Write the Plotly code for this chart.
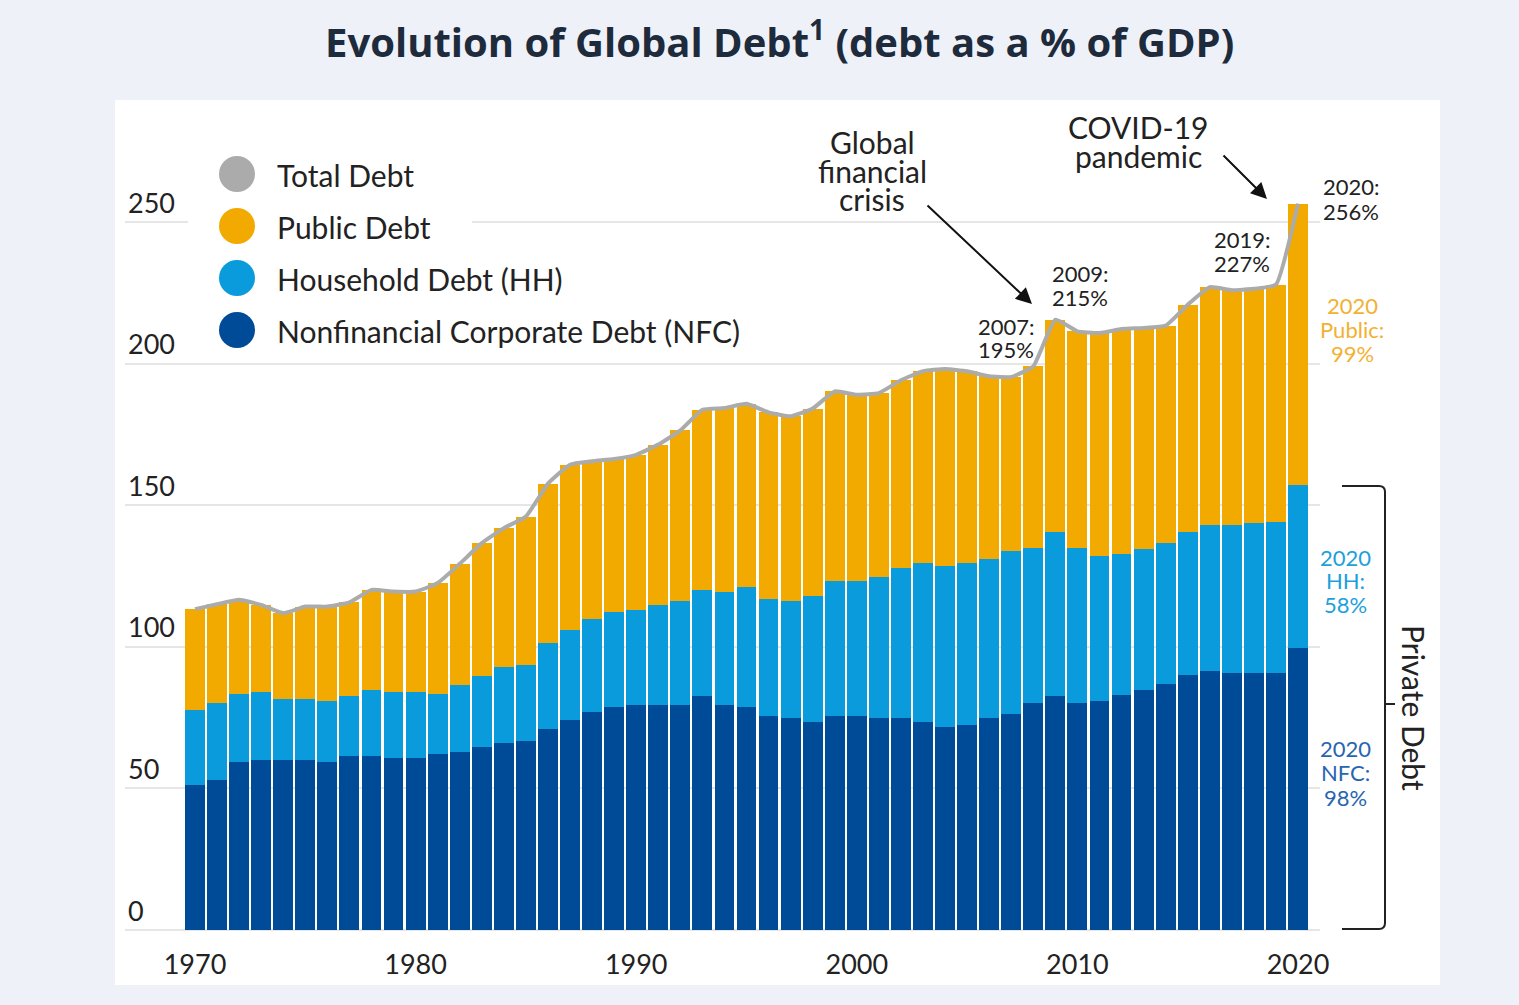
import plotly.graph_objects as go

# ---------------- data (debt as % of GDP) ----------------
years = list(range(1970, 2021))

nfc = [51.2, 53.0, 59.2, 60.0, 60.0, 60.0, 59.2, 61.5, 61.5, 60.7,
       60.7, 62.2, 63.0, 64.5, 66.2, 66.9, 70.8, 74.0, 77.1, 78.7,
       79.5, 79.5, 79.5, 82.7, 79.5, 78.7, 75.6, 74.8, 73.3, 75.6,
       75.6, 74.8, 74.8, 73.3, 71.8, 72.4, 74.8, 76.4, 80.3, 82.7,
       80.3, 81.0, 83.0, 84.6, 86.7, 89.9, 91.5, 90.7, 90.7, 90.7,
       99.5]

household = [26.6, 27.1, 24.1, 24.1, 21.7, 21.7, 21.8, 21.1, 23.3, 23.4,
             23.4, 21.1, 23.5, 25.1, 26.5, 26.6, 30.5, 32.0, 32.8, 33.6,
             33.6, 35.1, 36.8, 37.4, 39.8, 42.3, 41.4, 41.5, 44.5, 47.7,
             47.7, 50.0, 53.0, 56.2, 56.9, 57.1, 56.2, 57.6, 54.5, 57.7,
             54.5, 50.9, 49.9, 49.9, 49.9, 50.8, 51.4, 52.2, 53.0, 53.2,
             57.5]

public = [35.5, 34.9, 33.3, 30.7, 30.2, 32.5, 33.2, 33.1, 35.3, 35.4,
          35.4, 39.2, 42.8, 47.0, 49.2, 52.5, 56.3, 58.3, 55.6, 54.0,
          54.7, 56.8, 60.1, 63.6, 65.0, 64.8, 65.8, 65.1, 66.3, 66.9,
          65.7, 64.8, 66.3, 67.8, 69.4, 67.8, 64.5, 61.3, 64.2, 75.1,
          76.6, 78.9, 79.3, 78.1, 76.8, 80.1, 84.1, 83.0, 82.7, 84.0,
          99.5]

total = [round(a + b + c, 1) for a, b, c in zip(nfc, household, public)]

x_ticks = [1970, 1980, 1990, 2000, 2010, 2020]
y_ticks = [0, 50, 100, 150, 200, 250]

legend_names = ["Total Debt", "Public Debt", "Household Debt (HH)",
                "Nonfinancial Corporate Debt (NFC)"]

# ---------------- styling ----------------
C_NFC = "#004B98"
C_HH = "#0A9BDD"
C_PUB = "#F2A900"
C_TOT = "#ABABAB"
FONT = "Lato"
TXT = "#222222"

# plot area in pixels: left 125, right 1320, top 110, bottom 930
L, R, T, B = 125, 1320, 110, 930
W, H = 1519, 1005


def PX(x):
    return (x - L) / (R - L)


def PY(y):
    return (B - y) / (B - T)


fig = go.Figure()
fig.add_trace(go.Bar(x=years, y=nfc, marker=dict(color=C_NFC, line=dict(width=0)),
                     width=0.9, name=legend_names[3], showlegend=False))
fig.add_trace(go.Bar(x=years, y=household, marker=dict(color=C_HH, line=dict(width=0)),
                     width=0.9, name=legend_names[2], showlegend=False))
fig.add_trace(go.Bar(x=years, y=public, marker=dict(color=C_PUB, line=dict(width=0)),
                     width=0.9, name=legend_names[1], showlegend=False))
fig.add_trace(go.Scatter(x=years, y=total, mode="lines",
                         line=dict(color=C_TOT, width=4, shape="spline", smoothing=0.4),
                         name=legend_names[0], showlegend=False))

shapes = []
annotations = []

# white panel
shapes.append(dict(type="rect", xref="paper", yref="paper", layer="below",
                   x0=PX(115), x1=PX(1440), y0=PY(985), y1=PY(100),
                   fillcolor="white", line=dict(width=0)))

# mask gridline behind legend
shapes.append(dict(type="rect", xref="paper", yref="paper", layer="above",
                   x0=PX(188), x1=PX(472), y0=PY(236), y1=PY(212),
                   fillcolor="white", line=dict(width=0)))

# manual legend
leg_colors = [C_TOT, C_PUB, C_HH, C_NFC]
leg_y = [174, 226, 278, 330]
for name, col, yy in zip(legend_names, leg_colors, leg_y):
    shapes.append(dict(type="circle", xref="paper", yref="paper", layer="above",
                       x0=PX(237 - 18), x1=PX(237 + 18), y0=PY(yy + 18), y1=PY(yy - 18),
                       fillcolor=col, line=dict(width=0)))
    annotations.append(dict(xref="paper", yref="paper", x=PX(275), y=PY(yy + 1),
                            text=name, showarrow=False, xanchor="left", yanchor="middle",
                            font=dict(family=FONT, size=30, color=TXT)))


def text_lines(lines, cx, ys, size, color):
    for t, yy in zip(lines, ys):
        annotations.append(dict(xref="paper", yref="paper", x=PX(cx), y=PY(yy),
                                text=t, showarrow=False, xanchor="center", yanchor="middle",
                                font=dict(family=FONT, size=size, color=color)))


text_lines(["Global", "financial", "crisis"], 872, [142, 171, 199], 30, TXT)
text_lines(["COVID-19", "pandemic"], 1138, [127, 156], 30, TXT)
text_lines(["2007:", "195%"], 1006, [326, 349], 22, TXT)
text_lines(["2009:", "215%"], 1080, [273, 297], 22, TXT)
text_lines(["2019:", "227%"], 1242, [239, 263], 22, TXT)
text_lines(["2020:", "256%"], 1351, [187, 211], 22, TXT)
text_lines(["2020", "Public:", "99%"], 1352, [305, 329, 353], 22, "#F2B131")
text_lines(["2020", "HH:", "58%"], 1345, [557, 580, 604], 22, "#1D9FDC")
text_lines(["2020", "NFC:", "98%"], 1345, [748, 772, 797], 22, "#2865B0")

# arrows
for (tx, ty, hx, hy) in [(926, 204, 1032, 304), (1222, 154, 1267, 199)]:
    annotations.append(dict(xref="paper", yref="paper", axref="pixel", ayref="pixel",
                            x=PX(hx), y=PY(hy), ax=tx - hx, ay=ty - hy, text="",
                            showarrow=True, arrowhead=2, arrowsize=1.6, arrowwidth=2,
                            arrowcolor="#111111"))

# private debt bracket
r = 6
path = (f"M {PX(1342)},{PY(486)} L {PX(1385 - r)},{PY(486)} "
        f"Q {PX(1385)},{PY(486)} {PX(1385)},{PY(486 + r)} "
        f"L {PX(1385)},{PY(929 - r)} "
        f"Q {PX(1385)},{PY(929)} {PX(1385 - r)},{PY(929)} "
        f"L {PX(1342)},{PY(929)} "
        f"M {PX(1385)},{PY(704)} L {PX(1395)},{PY(704)}")
shapes.append(dict(type="path", xref="paper", yref="paper", layer="above", path=path,
                   line=dict(color="#222222", width=2)))
annotations.append(dict(xref="paper", yref="paper", x=PX(1414), y=PY(708),
                        text="Private Debt", textangle=90, showarrow=False,
                        xanchor="center", yanchor="middle",
                        font=dict(family=FONT, size=30, color=TXT)))

# title
annotations.append(dict(xref="paper", yref="paper", x=PX(779), y=PY(40),
                        text="Evolution of Global Debt<sup>1</sup> (debt as a % of GDP)",
                        showarrow=False, xanchor="center", yanchor="middle",
                        font=dict(family="Open Sans", size=40, color="#1E2B3C", weight="bold")))

x0 = 1970 + (L - 195) / 22.06
x1 = 1970 + (R - 195) / 22.06
ytop = (B - T) / 2.832

fig.update_layout(
    width=W, height=H,
    margin=dict(l=L, r=W - R, t=T, b=H - B, pad=0),
    paper_bgcolor="#EEF2F8",
    plot_bgcolor="white",
    barmode="stack",
    bargap=0.1,
    showlegend=False,
    shapes=shapes,
    annotations=annotations,
    font=dict(family=FONT, color=TXT),
    xaxis=dict(range=[x0, x1], tickvals=x_ticks, ticks="", showgrid=False,
               showline=False, zeroline=False, ticklabelstandoff=16,
               tickfont=dict(family=FONT, size=27, color=TXT)),
    yaxis=dict(range=[0, ytop], tickvals=y_ticks, ticks="",
               ticklabelposition="inside top", showgrid=True,
               gridcolor="#E6E6E6", gridwidth=2, zeroline=True,
               zerolinecolor="#E6E6E6", zerolinewidth=2, showline=False,
               tickfont=dict(family=FONT, size=27, color=TXT)),
)

fig.write_html("out.html", config={"displayModeBar": False},
               post_script="document.body.style.margin='0';")
